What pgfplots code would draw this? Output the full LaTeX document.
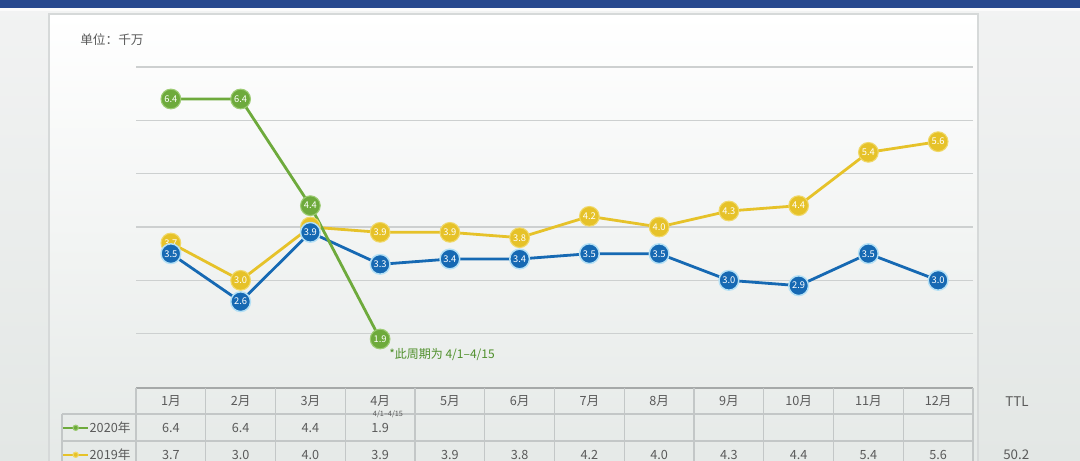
\documentclass[border=0pt]{standalone}
\usepackage{pgfplots}
\pgfplotsset{compat=1.18}
\usepackage{pgfplotstable}
\usepackage{fontspec}
\setmainfont{Noto Sans CJK SC}
\pgfplotsset{/pgf/number format/assume math mode=true}
\definecolor{gr}{HTML}{6EAA3C}
\definecolor{grl}{HTML}{9CCB72}
\definecolor{ye}{HTML}{E6C229}
\definecolor{yel}{HTML}{F0D868}
\definecolor{bl}{HTML}{1669B3}
\definecolor{halo}{HTML}{B4E0F5}
\definecolor{txt}{HTML}{5A5A5A}
\definecolor{topbar}{HTML}{27488E}
\definecolor{bgtop}{HTML}{F2F3F3}
\definecolor{bgbot}{HTML}{E3E7E5}
\definecolor{panelbot}{HTML}{E5E9E7}
\definecolor{pborder}{HTML}{D6D9D9}
\definecolor{gridc}{HTML}{CDD0D0}
\definecolor{tline}{HTML}{C3C7C7}
\definecolor{anno}{HTML}{4E8F2A}

\pgfplotstableread{
x y
0 6.4
1 6.4
2 4.4
3 1.9
}\dataA
\pgfplotstableread{
x y
0 3.7
1 3.0
2 4.0
3 3.9
4 3.9
5 3.8
6 4.2
7 4.0
8 4.3
9 4.4
10 5.4
11 5.6
}\dataB
\pgfplotstableread{
x y
0 3.5
1 2.6
2 3.9
3 3.3
4 3.4
5 3.4
6 3.5
7 3.5
8 3.0
9 2.9
10 3.5
11 3.0
}\dataC

\begin{document}
\begin{tikzpicture}
\useasboundingbox (0,0) rectangle (810pt,-345pt);
\clip (0,0) rectangle (810pt,-345pt);
\begin{scope}[x=0.75pt,y=-0.75pt]
  \shade[top color=bgtop, bottom color=bgbot] (0,0) rectangle (1080,460);
  \fill[topbar] (0,0) rectangle (1080,8);
  \fill[white!70!bgtop] (0,8) rectangle (1080,11);
  \shade[top color=white, bottom color=panelbot] (49,14) rectangle (978,470);
  \draw[pborder, line width=1pt] (49,470) -- (49,14) -- (978,14) -- (978,470);
  % table lines
  \draw[tline!85!black, line width=1.4pt] (136,388) -- (973,388);
  \draw[tline, line width=0.8pt] (62,414) -- (973,414);
  \draw[tline, line width=0.8pt] (62,441) -- (973,441);
  \draw[tline, line width=0.8pt] (62,414) -- (62,470);
  \foreach \i in {0,...,12} {
    \draw[tline, line width=0.8pt] ({136+69.75*\i},388) -- ({136+69.75*\i},470);
  }
\end{scope}

\begin{axis}[
  at={(102pt,-290.25pt)}, anchor=south west,
  scale only axis, width=627.75pt, height=240pt,
  xmin=-0.5, xmax=11.5, ymin=1, ymax=7,
  clip=false,
  axis line style={draw=none},
  major tick length=0pt,
  ytick={2,3,4,5,6,7}, yticklabels={},
  ymajorgrids, major grid style={draw=gridc, line width=0.9pt},
  xtick={0,...,11},
  xticklabels={1月,2月,3月,4月,5月,6月,7月,8月,9月,10月,11月,12月},
  xticklabel style={anchor=center, yshift=-10.5pt, font=\fontsize{9.5}{11}\selectfont, text=txt},
  reverse legend,
  legend style={at={(-0.0884,-0.0844)}, anchor=north west, draw=none, fill=none,
    inner sep=0pt, row sep=0pt, font=\fontsize{9.5}{11}\selectfont,
    nodes={inner sep=0.5pt, minimum height=20.25pt, text=txt}},
  legend image code/.code={\draw[mark repeat=2,mark phase=2] plot coordinates {(0cm,0cm) (0.33cm,0cm) (0.66cm,0cm)};},
  legend image post style={mark size=2pt, line width=1.3pt},
  line join=round,
]
% 2019 (yellow)
\addplot[color=ye, line width=2.1pt, mark=*, mark size=7.4pt,
  mark options={fill=ye, draw=yel, line width=0.8pt},
  nodes near coords={\pgfmathprintnumber[fixed, fixed zerofill, precision=1]{\pgfplotspointmeta}},
  nodes near coords align=center,
  every node near coord/.append style={text=white, inner sep=0pt, font=\fontsize{7}{7}\selectfont}]
  table[x=x, y=y] {\dataB};
\addlegendentry{2019年}
% blue series
\addplot[forget plot, color=bl, line width=2.1pt, mark=*, mark size=7.4pt,
  mark options={fill=bl, draw=halo, line width=1.1pt},
  nodes near coords={\pgfmathprintnumber[fixed, fixed zerofill, precision=1]{\pgfplotspointmeta}},
  nodes near coords align=center,
  every node near coord/.append style={text=white, inner sep=0pt, font=\fontsize{7}{7}\selectfont}]
  table[x=x, y=y] {\dataC};
% 2020 (green)
\addplot[color=gr, line width=2.1pt, mark=*, mark size=7.4pt,
  mark options={fill=gr, draw=grl, line width=0.8pt},
  nodes near coords={\pgfmathprintnumber[fixed, fixed zerofill, precision=1]{\pgfplotspointmeta}},
  nodes near coords align=center,
  every node near coord/.append style={text=white, inner sep=0pt, font=\fontsize{7}{7}\selectfont}]
  table[x=x, y=y] {\dataA};
\addlegendentry{2020年}
% table values
\addplot[forget plot, only marks, mark=none,
  point meta=explicit,
  nodes near coords={\pgfmathprintnumber[fixed, fixed zerofill, precision=1]{\pgfplotspointmeta}},
  nodes near coords align=center,
  every node near coord/.append style={text=txt, text opacity=1, font=\fontsize{9.5}{11}\selectfont}]
  table[x=x, y expr=0.231, meta=y] {\dataA};
\addplot[forget plot, only marks, mark=none,
  point meta=explicit,
  nodes near coords={\pgfmathprintnumber[fixed, fixed zerofill, precision=1]{\pgfplotspointmeta}},
  nodes near coords align=center,
  every node near coord/.append style={text=txt, text opacity=1, font=\fontsize{9.5}{11}\selectfont}]
  table[x=x, y expr=-0.275, meta=y] {\dataB};
\end{axis}

\begin{scope}[x=0.75pt,y=-0.75pt]
  \node[anchor=west, text=txt, font=\fontsize{9.5}{11}\selectfont, inner sep=0pt] at (80,40) {单位：千万};
  \node[anchor=west, text=anno, font=\fontsize{9}{10}\selectfont, inner sep=0pt] at (389,355) {*此周期为 4/1–4/15};
  \node[text=txt, font=\fontsize{5.5}{6}\selectfont, inner sep=0pt] at (388,414) {4/1–4/15};
  \node[anchor=west, text=txt, font=\fontsize{10}{12}\selectfont, inner sep=0pt] at (1005,402) {TTL};
  \node[anchor=west, text=txt, font=\fontsize{10}{12}\selectfont, inner sep=0pt] at (1003,455) {50.2};
\end{scope}
\end{tikzpicture}
\end{document}
